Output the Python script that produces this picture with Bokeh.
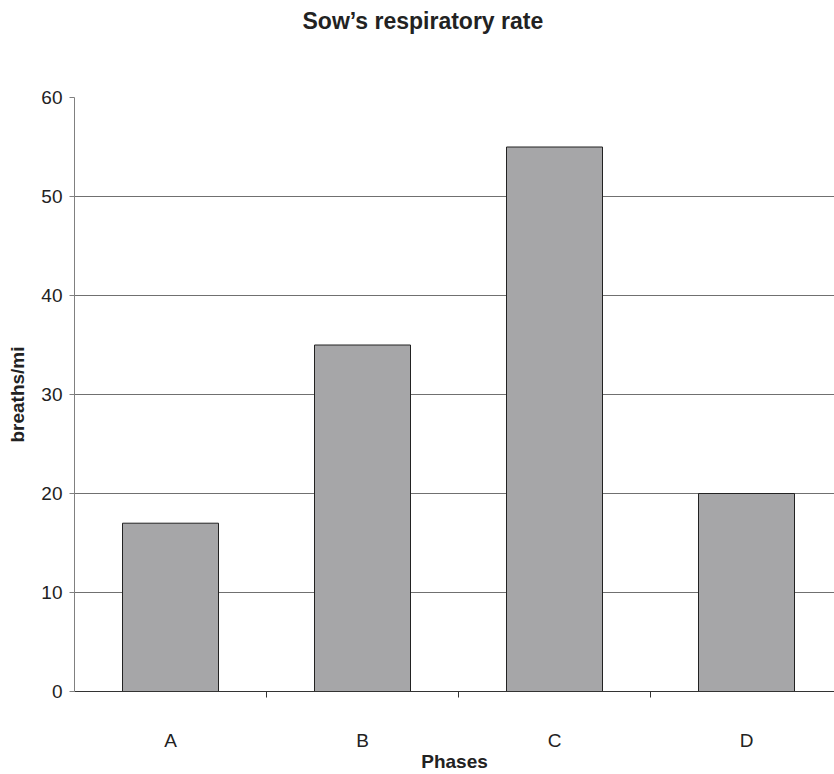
from bokeh.plotting import figure
from bokeh.models import FixedTicker, Title
from bokeh.embed import file_html
from bokeh.resources import INLINE

phases = ["A", "B", "C", "D"]
rates = [17, 35, 55, 20]
y_ticks = [0, 10, 20, 30, 40, 50, 60]

x_centers = [i + 0.5 for i in range(len(phases))]
boundaries = [i for i in range(1, len(phases))]

FONT = "Liberation Sans"

p = figure(width=834, height=774, output_backend="svg", toolbar_location=None,
           x_range=(0, 3.9583), y_range=(0, 60),
           min_border_left=74, min_border_right=0, min_border_top=97, min_border_bottom=83)
p.outline_line_color = None
p.background_fill_color = "white"

# invisible spacer between the title and the plot area
spacer = Title(text=" ", text_font=FONT, text_font_size="10px", standoff=42,
               text_color="white")
p.add_layout(spacer, "above")

t = Title(text="Sow\u2019s respiratory rate", align="left", offset=228, standoff=14,
          vertical_align="top",
          text_font=FONT, text_font_size="23px", text_font_style="bold", text_color="#222222")
p.title = t

p.vbar(x=x_centers, top=rates, width=0.5, fill_color="#a6a6a8",
       line_color="#222222", line_width=1)

# y axis
p.yaxis.ticker = FixedTicker(ticks=y_ticks)
p.yaxis.axis_line_color = "#808080"
p.yaxis.major_tick_line_color = "#808080"
p.yaxis.major_tick_out = 5
p.yaxis.major_tick_in = 0
p.yaxis.minor_tick_line_color = None
p.yaxis.major_label_standoff = 7
p.yaxis.major_label_text_font = FONT
p.yaxis.major_label_text_font_size = "19px"
p.yaxis.major_label_text_color = "#222222"
p.yaxis.axis_label = "breaths/mi"
p.yaxis.axis_label_text_font = FONT
p.yaxis.axis_label_text_font_size = "19px"
p.yaxis.axis_label_text_font_style = "bold"
p.yaxis.axis_label_text_color = "#222222"
p.yaxis.axis_label_standoff = 10

# x axis
p.xaxis.ticker = FixedTicker(ticks=x_centers, minor_ticks=boundaries)
p.xaxis.major_label_overrides = {x: lab for x, lab in zip(x_centers, phases)}
p.xaxis.axis_line_color = "#333333"
p.xaxis.axis_line_width = 1.2
p.xaxis.major_tick_out = 0
p.xaxis.major_tick_in = 0
p.xaxis.minor_tick_out = 6
p.xaxis.minor_tick_in = 0
p.xaxis.minor_tick_line_color = "#333333"
p.xaxis.major_label_standoff = 32
p.xaxis.major_label_text_font = FONT
p.xaxis.major_label_text_font_size = "19px"
p.xaxis.major_label_text_color = "#222222"
p.xaxis.axis_label = "Phases"
p.xaxis.axis_label_text_font = FONT
p.xaxis.axis_label_text_font_size = "19px"
p.xaxis.axis_label_text_font_style = "bold"
p.xaxis.axis_label_text_color = "#222222"
p.xaxis.axis_label_standoff = -3

p.xgrid.grid_line_color = None
p.ygrid.ticker = FixedTicker(ticks=y_ticks)
p.ygrid.grid_line_color = "#707070"
p.ygrid.grid_line_width = 1

open("out.html", "w").write(file_html(p, INLINE))
